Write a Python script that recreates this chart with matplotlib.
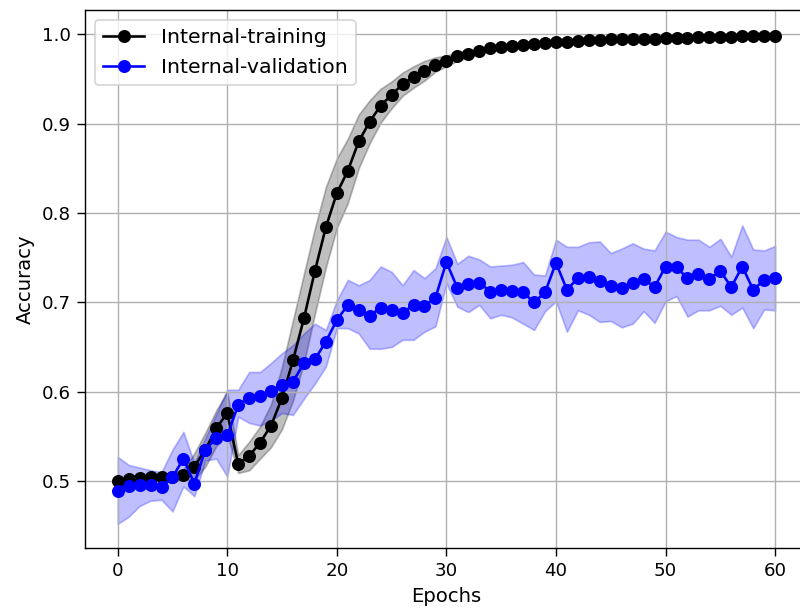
import matplotlib
matplotlib.use("Agg")
import matplotlib.pyplot as plt
import numpy as np

epochs = np.arange(61)

# Mean accuracy
train_acc = [0.500, 0.502, 0.503, 0.504, 0.504, 0.505, 0.507, 0.516, 0.535, 0.559,
             0.576, 0.519, 0.528, 0.543, 0.562, 0.593, 0.635, 0.682, 0.735, 0.784,
             0.822, 0.847, 0.880, 0.902, 0.920, 0.932, 0.944, 0.952, 0.959, 0.966,
             0.970, 0.975, 0.978, 0.981, 0.984, 0.986, 0.987, 0.988, 0.989, 0.990,
             0.991, 0.991, 0.992, 0.993, 0.993, 0.994, 0.994, 0.995, 0.995, 0.995,
             0.996, 0.996, 0.996, 0.997, 0.997, 0.997, 0.997, 0.998, 0.998, 0.998,
             0.998]
train_std = [0.003, 0.003, 0.003, 0.003, 0.003, 0.004, 0.006, 0.015, 0.019, 0.020,
             0.024, 0.010, 0.016, 0.018, 0.024, 0.035, 0.045, 0.050, 0.048, 0.045,
             0.039, 0.036, 0.030, 0.024, 0.019, 0.015, 0.013, 0.012, 0.011, 0.008,
             0.006, 0.005, 0.004, 0.003, 0.003, 0.003, 0.003, 0.003, 0.003, 0.002,
             0.002, 0.002, 0.002, 0.002, 0.002, 0.002, 0.002, 0.002, 0.002, 0.002,
             0.002, 0.001, 0.001, 0.001, 0.001, 0.001, 0.001, 0.001, 0.001, 0.001,
             0.001]

val_acc = [0.489, 0.494, 0.496, 0.496, 0.493, 0.504, 0.525, 0.497, 0.535, 0.548,
           0.551, 0.585, 0.593, 0.595, 0.601, 0.607, 0.611, 0.632, 0.636, 0.656,
           0.680, 0.697, 0.691, 0.685, 0.694, 0.691, 0.688, 0.697, 0.696, 0.705,
           0.745, 0.716, 0.720, 0.722, 0.712, 0.714, 0.713, 0.711, 0.700, 0.711,
           0.744, 0.714, 0.727, 0.728, 0.724, 0.718, 0.716, 0.722, 0.726, 0.717,
           0.740, 0.739, 0.727, 0.732, 0.726, 0.735, 0.717, 0.740, 0.714, 0.725,
           0.727]
val_upper = [0.527, 0.518, 0.515, 0.512, 0.510, 0.535, 0.555, 0.520, 0.548, 0.575,
             0.602, 0.602, 0.622, 0.622, 0.632, 0.643, 0.652, 0.665, 0.676, 0.669,
             0.702, 0.725, 0.719, 0.725, 0.740, 0.734, 0.719, 0.736, 0.727, 0.738,
             0.773, 0.743, 0.752, 0.748, 0.740, 0.741, 0.742, 0.745, 0.731, 0.730,
             0.770, 0.762, 0.762, 0.767, 0.768, 0.755, 0.760, 0.766, 0.760, 0.758,
             0.779, 0.773, 0.770, 0.770, 0.762, 0.771, 0.751, 0.786, 0.759, 0.758,
             0.763]
val_lower = [0.452, 0.460, 0.472, 0.478, 0.479, 0.466, 0.494, 0.483, 0.523, 0.525,
             0.505, 0.572, 0.565, 0.562, 0.568, 0.576, 0.574, 0.592, 0.609, 0.628,
             0.671, 0.671, 0.665, 0.648, 0.648, 0.650, 0.658, 0.658, 0.667, 0.673,
             0.721, 0.695, 0.689, 0.697, 0.682, 0.686, 0.683, 0.676, 0.669, 0.690,
             0.701, 0.667, 0.691, 0.686, 0.678, 0.679, 0.672, 0.676, 0.690, 0.677,
             0.701, 0.707, 0.684, 0.691, 0.691, 0.696, 0.686, 0.694, 0.671, 0.692,
             0.691]

train_acc = np.array(train_acc)
train_std = np.array(train_std)

fig = plt.figure(figsize=(6.4, 4.88), dpi=125)
ax = fig.add_axes([0.106, 0.1016, 0.904, 0.882])

ax.plot(epochs, train_acc, 'k-o', markersize=6.5, label='Internal-training')
ax.fill_between(epochs, train_acc - train_std, train_acc + train_std, color='k', alpha=0.25)
ax.plot(epochs, val_acc, 'b-o', markersize=6.5, label='Internal-validation')
ax.fill_between(epochs, val_lower, val_upper, color='b', alpha=0.25)

ax.set_xlim(-3, 63)
ax.set_ylim(0.425, 1.027)
ax.set_xlabel("Epochs", fontsize=11.3)
ax.set_ylabel("Accuracy", fontsize=11.3)
ax.tick_params(labelsize=10.5, length=4.5)
ax.legend(loc='upper left', fontsize=11.8)
ax.grid(True)

fig.savefig("out.png", dpi=125)
